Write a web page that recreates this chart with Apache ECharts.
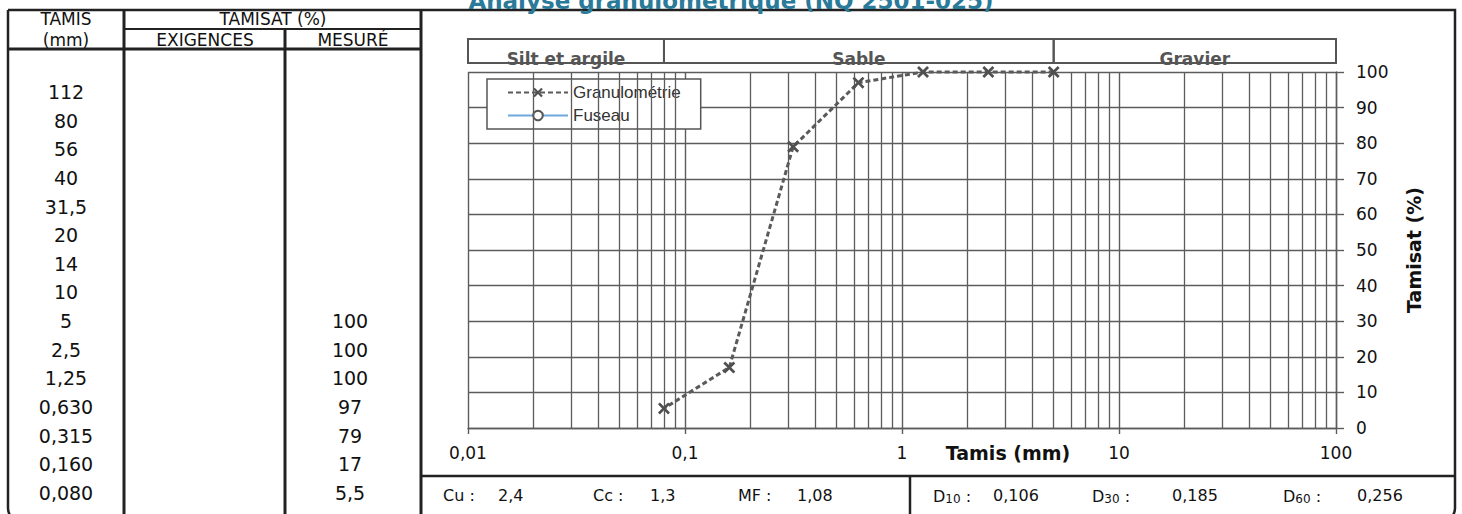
<!DOCTYPE html>
<html><head><meta charset="utf-8">
<script src="https://cdn.jsdelivr.net/npm/echarts@6/dist/echarts.min.js"></script>
<style>html,body{margin:0;padding:0;background:#fff}#c{width:1462px;height:514px}</style>
</head><body><div id="c"></div>
<script>
// ---- data ----
const tamisLabels = ['112','80','56','40','31,5','20','14','10','5','2,5','1,25','0,630','0,315','0,160','0,080'];
const tamisValues = [112,80,56,40,31.5,20,14,10,5,2.5,1.25,0.63,0.315,0.16,0.08];
const mesureLabels = ['','','','','','','','','100','100','100','97','79','17','5,5'];
const mesureValues = [null,null,null,null,null,null,null,null,100,100,100,97,79,17,5.5];
const exigences = [];
const bandNames = ['Silt et argile','Sable','Gravier'];
const bandLimits = [0.01,0.08,5,100];
const paramNames = ['Cu :','Cc :','MF :'];
const paramValues = ['2,4','1,3','1,08'];
const dNames = ['10','30','60'];
const dValues = ['0,106','0,185','0,256'];
const titleText = 'Analyse granulométrique (NQ 2501-025)';

// ---- build ----
const FONT = '"DejaVu Sans", Verdana, sans-serif';
const GRID = '#5c5c5c';
const INK = '#111';
const granulo = tamisValues.map((t,i)=> mesureValues[i]==null ? null : [t, mesureValues[i]]).filter(Boolean);
const minorGrid = [];
for (let d = 0.01; d < 100; d *= 10) for (let k = 2; k <= 9; k++) minorGrid.push({xAxis: +(d*k).toPrecision(6)});
const fr = v => String(+(+v).toPrecision(6)).replace('.', ',');

const g = [];
function line(x1,y1,x2,y2,w){ g.push({type:'line', shape:{x1,y1,x2,y2}, style:{stroke:'#222', lineWidth:w||2.5}, silent:true}); }
function txt(x,y,text,o){ o=o||{}; g.push({type:'text', x, y, silent:true, style:{text, font:(o.weight||'normal')+' '+(o.size||16)+'px '+FONT, fill:o.color||INK, align:o.align||'center', verticalAlign:o.va||'middle'}}); }

// frame
g.push({type:'rect', shape:{x:8,y:10,width:1447,height:512,r:[0,0,14,14]}, style:{fill:'none', stroke:'#222', lineWidth:2.5}, silent:true});
line(124,10,124,514,3); line(285,29,285,514,3); line(421,10,421,514,3);
line(124,29,421,29,2); line(8,49,421,49,3);
line(421,476,1455,476,2.5); line(910,476,910,514,2.5);
// title (cut by the top edge as in the scan)
txt(731,12,titleText,{size:23, weight:'bold', color:'#2a7a99', va:'bottom'});
// table
txt(66,19,'TAMIS',{size:17}); txt(273,19,'TAMISAT (%)',{size:17});
txt(66,40,'(mm)',{size:17}); txt(205,40,'EXIGENCES',{size:17}); txt(353,40,'MESURÉ',{size:17});
tamisLabels.forEach((s,i)=>{ const y = 92 + i*28.64; txt(66,y,s,{size:19}); if (mesureLabels[i]) txt(350,y,mesureLabels[i],{size:19}); });
// bottom parameters
const px = [[443,498],[593,650],[738,797]];
paramNames.forEach((n,i)=>{ txt(px[i][0],495,n,{size:16,align:'left'}); txt(px[i][1],495,paramValues[i],{size:16,align:'left'}); });
const dx = [[933,993],[1092,1172],[1283,1357]];
dNames.forEach((n,i)=>{
  g.push({type:'text', x:dx[i][0], y:495, silent:true, style:{text:'{a|D}{b|'+n+'}{a| :}', align:'left', verticalAlign:'middle', fill:INK,
    rich:{a:{fontSize:16, fontFamily:FONT, fill:INK, color:INK, verticalAlign:'bottom', lineHeight:19}, b:{fontSize:12, fontFamily:FONT, fill:INK, color:INK, verticalAlign:'bottom', lineHeight:15}}}});
  txt(dx[i][1],495,dValues[i],{size:16,align:'left'});
});
txt(1008,453,'Tamis (mm)',{size:19, weight:'bold'});

const chart = echarts.init(document.getElementById('c'), null, {renderer:'svg'});
chart.setOption({
  animation:false,
  backgroundColor:'#fff',
  grid:[{left:468, right:126, top:72, bottom:86}, {left:468, right:126, top:39, height:24}],
  legend:{data:['Granulométrie','Fuseau'], orient:'vertical', left:487, top:79, padding:[5,20,5,20], itemGap:6, itemWidth:60, itemHeight:12,
    backgroundColor:'#fff', borderColor:'#555', borderWidth:1.5, selectedMode:false,
    textStyle:{fontFamily:'"Liberation Sans", Arial, sans-serif', fontSize:17, color:'#333'}},
  xAxis:[{type:'log', logBase:10, min:0.01, max:100, gridIndex:0,
    axisLine:{show:true, lineStyle:{color:GRID, width:1.4}},
    axisTick:{show:true, length:6, lineStyle:{color:GRID, width:1.4}},
    axisLabel:{margin:16, color:INK, fontSize:17, fontFamily:FONT, formatter:fr, showMinLabel:true, showMaxLabel:true},
    splitLine:{show:true, lineStyle:{color:GRID, width:1.4}}},
    {type:'log', logBase:10, min:0.01, max:100, gridIndex:1, show:false}],
  yAxis:[{type:'value', position:'right', min:0, max:100, interval:10, gridIndex:0,
    axisLine:{show:true, lineStyle:{color:GRID, width:1.4}},
    axisTick:{show:true, length:8, lineStyle:{color:GRID, width:1.4}},
    axisLabel:{margin:20, color:INK, fontSize:17, fontFamily:FONT},
    splitLine:{show:true, lineStyle:{color:GRID, width:1.4}},
    name:'Tamisat (%)', nameLocation:'middle', nameRotate:90, nameGap:68,
    nameTextStyle:{fontWeight:'bold', fontSize:19, color:INK, fontFamily:FONT}},
    {type:'value', min:0, max:1, gridIndex:1, show:false}],
  series:[
    {name:'Granulométrie', type:'line', data:granulo, xAxisIndex:0, yAxisIndex:0, clip:false,
     symbol:'path://M0,1.6L1.6,0L5,3.4L8.4,0L10,1.6L6.6,5L10,8.4L8.4,10L5,6.6L1.6,10L0,8.4L3.4,5Z', symbolSize:12,
     itemStyle:{color:'#505050'}, lineStyle:{color:'#5a5a5a', width:3, type:[5,3]},
     markLine:{silent:true, symbol:['none','none'], label:{show:false}, lineStyle:{color:GRID, width:1.3, type:'solid'}, emphasis:{disabled:true}, data:minorGrid},
     z:5},
    {name:'Fuseau', type:'line', data:exigences, xAxisIndex:0, yAxisIndex:0, symbol:'emptyCircle', symbolSize:7,
     itemStyle:{color:'#555', borderColor:'#555'}, lineStyle:{color:'#6fa8dc', width:2}},
    {name:'bands', type:'line', data:[], xAxisIndex:1, yAxisIndex:1,
     markArea:{silent:true, itemStyle:{color:'rgba(0,0,0,0)', borderColor:'#555', borderWidth:2},
       label:{position:'insideBottom', distance:-3, color:'#555', fontWeight:'bold', fontSize:17, fontFamily:FONT},
       data: bandNames.map((n,i)=>[{name:n, xAxis:bandLimits[i], yAxis:0},{xAxis:bandLimits[i+1], yAxis:1}])}}
  ],
  graphic:{elements:g}
});
</script></body></html>
